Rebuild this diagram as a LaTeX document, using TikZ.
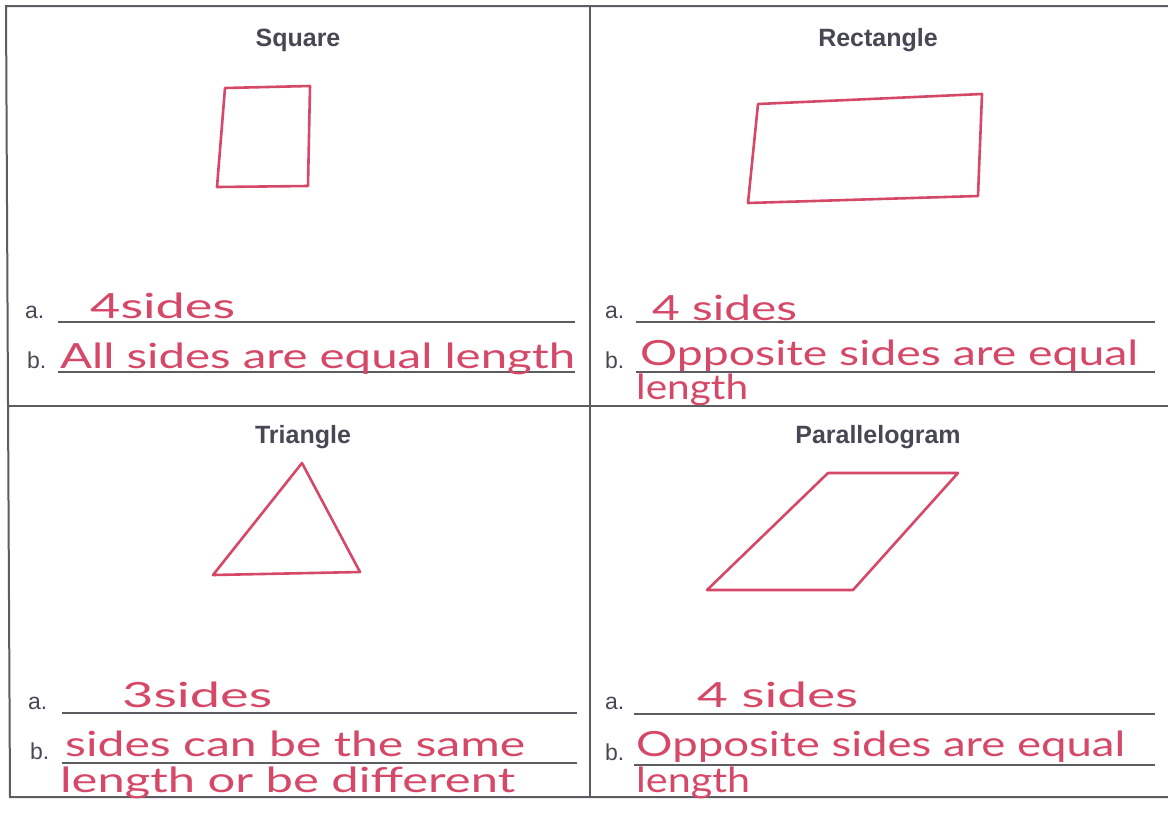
\documentclass[tikz,border=0pt]{standalone}
\usepackage{fontspec}
\setmainfont{Liberation Sans}
\newfontfamily\handfont{Lato}
\definecolor{pen}{RGB}{214,72,104}
\definecolor{ink}{RGB}{72,72,84}
\definecolor{frame}{RGB}{92,92,98}
% handwritten answer, stretched to a given width
\newcommand{\hw}[2]{\resizebox{#1pt}{1.12\height}{\handfont #2}}

\begin{document}
\begin{tikzpicture}[x=1pt,y=-1pt,
  title/.style={font=\fontsize{25}{28}\selectfont\bfseries, text=ink},
  lbl/.style={anchor=base west, inner sep=0pt, font=\fontsize{23}{26}\selectfont, text=ink},
  ans/.style={anchor=base west, inner sep=0pt, font=\fontsize{31}{33}\selectfont, text=pen},
  grid/.style={draw=frame, line width=2pt},
  blank/.style={draw=frame, line width=1.5pt},
  sketch/.style={draw=pen, line width=2.6pt, line join=round}]
\fill[white] (0,0) rectangle (1168,817);
\useasboundingbox (0,0) rectangle (1168,817);

% frame
\path[grid] (1168,6) -- (6,6) -- (10,797) -- (1168,797);
\path[grid] (590,6) -- (590,797);
\path[grid] (8,406) -- (1168,406);

% titles
\node[title] (T1) at (298,40) {Square};
\node[title] (T2) at (878,40) {Rectangle};
\node[title] (T3) at (303,437) {Triangle};
\node[title] (T4) at (878,437) {Parallelogram};

% shapes
\path[sketch] (225,88) -- (310,86) -- (308,186) -- (217,187) -- cycle;
\path[sketch] (758,104) -- (982,94) -- (978,196) -- (748,203) -- cycle;
\path[sketch] (302,463) -- (360,572) -- (213,575) -- cycle;
\path[sketch] (828,473) -- (958,473) -- (853,590) -- (707,590) -- cycle;

% answer lines
\path[blank] (58,322) -- (575,322);
\path[blank] (58,372) -- (575,372);
\path[blank] (636,322) -- (1155,322);
\path[blank] (636,372) -- (1155,372);
\path[blank] (62,713) -- (577,713);
\path[blank] (62,763) -- (577,763);
\path[blank] (634,714) -- (1155,714);
\path[blank] (634,765) -- (1155,765);

\node[lbl] (A1) at (25,318) {a.};
\node[lbl] (B1) at (27,368) {b.};
\node[lbl] (A2) at (605,318) {a.};
\node[lbl] (B2) at (605,368) {b.};
\node[lbl] (A3) at (28,709) {a.};
\node[lbl] (B3) at (30,759) {b.};
\node[lbl] (A4) at (605,709) {a.};
\node[lbl] (B4) at (605,760) {b.};

% answers
\node[ans] (S1) at (90,318) {\hw{145}{4sides}};
\node[ans] (E1) at (60,368) {\hw{515}{All sides are equal length}};
\node[ans] (S2) at (652,320) {\hw{145}{4 sides}};
\node[ans] (E2) at (640,365) {\hw{498}{Opposite sides are equal}};
\node[ans] (L2) at (636,399) {\hw{112}{length}};
\node[ans] (S3) at (122,707) {\hw{150}{3sides}};
\node[ans] (E3) at (65,756) {\hw{460}{sides can be the same}};
\node[ans] (F3) at (60,792) {\hw{455}{length or be different}};
\node[ans] (S4) at (697,707) {\hw{161}{4 sides}};
\node[ans] (E4) at (636,756) {\hw{489}{Opposite sides are equal}};
\node[ans] (L4) at (636,792) {\hw{114}{length}};

\end{tikzpicture}
\end{document}
